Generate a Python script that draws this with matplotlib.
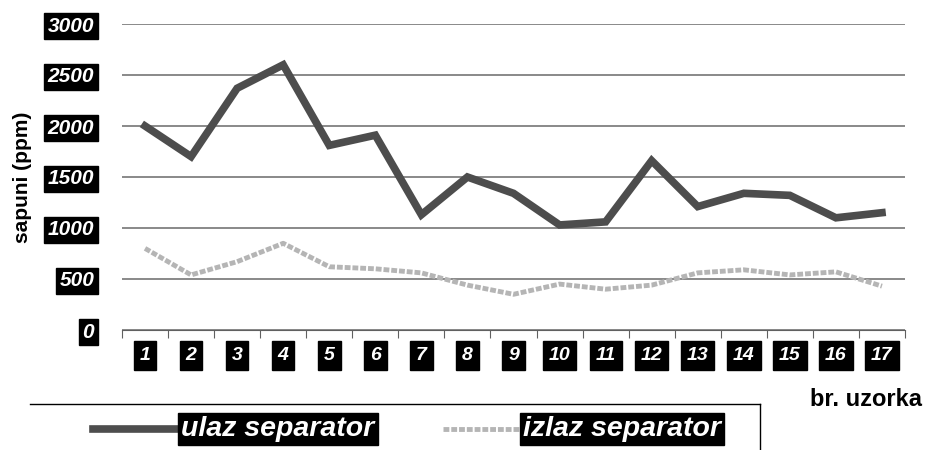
import matplotlib
matplotlib.use("Agg")
import matplotlib.pyplot as plt
from matplotlib.lines import Line2D

categories = [str(i) for i in range(1, 18)]
ulaz = [2000, 1700, 2370, 2600, 1810, 1910, 1130, 1500, 1340, 1030, 1060, 1660, 1210, 1340, 1320, 1100, 1150]
izlaz = [800, 540, 670, 850, 620, 600, 560, 440, 350, 450, 400, 440, 560, 590, 540, 570, 430]
yticks = [0, 500, 1000, 1500, 2000, 2500, 3000]
series_names = ["ulaz separator", "izlaz separator"]

plt.rcParams['font.family'] = ['Liberation Sans', 'DejaVu Sans']

ulaz_style = dict(color='#4d4d4d', lw=5.5)
izlaz_style = dict(color='#b5b5b5', lw=3.5, linestyle=(0, (1.2, 0.4)))

fig = plt.figure(figsize=(9.3, 4.5), dpi=100)
ax = fig.add_axes([122/930, 1-330/450, (905-122)/930, (330-24)/450])

x = list(range(len(categories)))
ax.plot(x, ulaz, solid_joinstyle='miter', zorder=3, **ulaz_style)
ax.plot(x, izlaz, zorder=3, **izlaz_style)

ax.set_xlim(-0.5, len(categories) - 0.5)
ax.set_ylim(0, 3000)
ax.set_yticks(yticks)
ax.yaxis.grid(True, color='#808080', lw=1.3)
ax.set_axisbelow(True)
for s in ['top', 'right', 'left']:
    ax.spines[s].set_visible(False)
ax.spines['bottom'].set_color('#606060')
ax.tick_params(axis='y', length=0, pad=20)
ax.set_xticks([i - 0.5 for i in range(len(categories) + 1)])
ax.set_xticklabels([])
ax.tick_params(axis='x', length=6, color='#606060', direction='out')

ybox = dict(boxstyle='square,pad=0.18', fc='black', ec='black')
ax.set_yticklabels([str(v) for v in yticks], fontsize=15, fontweight='bold',
                   fontstyle='italic', color='white')
for lab in ax.get_yticklabels():
    lab.set_bbox(ybox)

xbox = dict(boxstyle='square,pad=0.3', fc='black', ec='black')
for i, c in enumerate(categories):
    ax.text(i, -250, c, ha='center', va='center', fontsize=14, fontweight='bold',
            fontstyle='italic', color='white', bbox=xbox, clip_on=False)

fig.text(22/930, 1-177/450, 'sapuni (ppm)', rotation=90, ha='center', va='center',
         fontsize=15, fontweight='bold')
fig.text(866/930, 1-400/450, 'br. uzorka', ha='center', va='center',
         fontsize=17, fontweight='bold')

# legend frame (top and right edges)
fig.add_artist(Line2D([30/930, 760/930], [1-404/450, 1-404/450], color='black', lw=1))
fig.add_artist(Line2D([760/930, 760/930], [1-404/450, 0], color='black', lw=1))

# legend entries
ly = 1 - 429/450
legend_layout = [((93, 178), 181), ((443, 520), 523)]
styles = [ulaz_style, izlaz_style]
for name, st, ((x0, x1), tx) in zip(series_names, styles, legend_layout):
    fig.add_artist(Line2D([x0/930, x1/930], [ly, ly], **st))
    fig.text(tx/930, ly, name, ha='left', va='center',
             fontsize=20.5, fontstyle='italic', fontweight='bold', color='white',
             bbox=dict(boxstyle='square,pad=0.12', fc='black', ec='black'))

fig.savefig('out.png', dpi=100, facecolor='white')
